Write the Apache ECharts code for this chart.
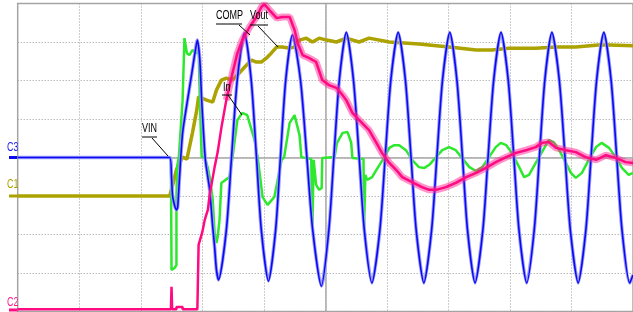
<!DOCTYPE html>
<html>
<head>
<meta charset="utf-8">
<script src="https://cdn.jsdelivr.net/npm/echarts@6/dist/echarts.min.js"></script>
<style>
  html, body { margin: 0; padding: 0; background: #fff; }
  #scope { width: 633px; height: 312px; }
</style>
</head>
<body>
<div id="scope"></div>
<script>
// time in divisions from screen centre, voltage in divisions from centre
const c3Vin = [
  [-5.0, 0], [-2.53, 0], [-2.50, -0.51], [-2.48, -1.03], [-2.42, -1.36], [-2.40, -1.29],
  [-2.37, -0.51], [-2.32, 0.64], [-2.24, 1.49], [-2.17, 2.19], [-2.12, 2.71], [-2.08, 3.05],
  [-2.04, 2.53], [-2.01, 1.49], [-1.98, 0.64], [-1.95, -0.06], [-1.91, -0.51], [-1.88, -0.84],
  [-1.83, -1.81], [-1.80, -2.32], [-1.77, -2.92], [-1.736, -3.18],
  [-1.609, -1.88], [-1.525, 0], [-1.432, 2.01], [-1.314, 3.23],
  [-1.205, 2.01], [-1.119, 0], [-1.041, -1.88], [-0.925, -3.21],
  [-0.808, -1.88], [-0.730, 0], [-0.644, 2.01], [-0.535, 3.18],
  [-0.404, 2.01], [-0.300, 0], [-0.206, -1.88], [-0.065, -3.34],
  [0.057, -1.88], [0.138, 0], [0.227, 2.01], [0.341, 3.25],
  [0.457, 2.01], [0.550, 0], [0.633, -1.88], [0.757, -3.26],
  [0.886, -1.88], [0.972, 0], [1.064, 2.01], [1.184, 3.25],
  [1.301, 2.01], [1.393, 0], [1.476, -1.88], [1.601, -3.26],
  [1.727, -1.88], [1.812, 0], [1.904, 2.01], [2.023, 3.25],
  [2.138, 2.01], [2.229, 0], [2.310, -1.88], [2.433, -3.26],
  [2.560, -1.88], [2.644, 0], [2.736, 2.01], [2.855, 3.25],
  [2.972, 2.01], [3.064, 0], [3.147, -1.88], [3.272, -3.26],
  [3.395, -1.88], [3.478, 0], [3.567, 2.01], [3.682, 3.25],
  [3.802, 2.01], [3.896, 0], [3.981, -1.88], [4.109, -3.26],
  [4.234, -1.88], [4.318, 0], [4.409, 2.01], [4.526, 3.25],
  [4.644, 2.01], [4.736, 0], [4.821, -1.88], [4.947, -3.26],
  [5.0, -3.05]
];

const c1Comp = [
  [-5.0, -1.0], [-2.53, -1.0], [-2.50, -0.97], [-2.48, -0.71], [-2.42, -0.32], [-2.37, -0.14],
  [-2.32, 0.01], [-2.25, -0.04], [-2.16, 0.64], [-2.09, 1.23], [-2.06, 1.58], [-1.93, 1.49],
  [-1.83, 1.44], [-1.77, 1.75], [-1.69, 2.01], [-1.61, 2.06], [-1.51, 2.01], [-1.43, 2.14],
  [-1.31, 2.35], [-1.20, 2.53], [-1.12, 2.48], [-1.04, 2.48], [-0.96, 2.58], [-0.88, 2.71],
  [-0.79, 2.87], [-0.70, 2.87], [-0.58, 2.84], [-0.50, 2.87], [-0.42, 3.05], [-0.31, 3.10],
  [-0.21, 3.00], [-0.10, 3.10], [0.02, 3.05], [0.18, 3.00], [0.34, 3.10], [0.55, 3.00],
  [0.71, 3.10], [1.04, 3.00], [1.52, 2.95], [2.01, 2.87], [2.45, 2.79], [2.71, 2.79],
  [2.98, 2.84], [3.42, 2.84], [3.75, 2.87], [4.07, 2.87], [4.44, 2.92], [4.61, 2.92],
  [5.0, 2.90]
];

const inCurrent = [
  [-5.0, 0], [-2.51, 0], [-2.50, -2.92], [-2.45, -2.87], [-2.42, -2.79], [-2.42, -1.10],
  [-2.41, -0.25], [-2.38, 0.04], [-2.35, 0.04], [-2.32, 1.49], [-2.29, 3.10], [-2.25, 2.71],
  [-2.21, 2.66], [-2.16, 2.79], [-2.09, 2.71], [-2.06, 2.87], [-2.04, 1.49], [-2.01, 0.01],
  [-1.96, 0], [-1.91, -0.27], [-1.88, -0.51], [-1.83, -1.10], [-1.80, -1.96], [-1.77, -2.22],
  [-1.75, -2.06], [-1.72, -1.62], [-1.69, -0.66], [-1.56, -0.51], [-1.52, -0.14],
  [-1.43, 0.97], [-1.35, 1.16], [-1.27, 1.10], [-1.15, 0.45], [-1.10, 0.01],
  [-1.02, -1.03], [-0.94, -1.23], [-0.83, -1.03], [-0.71, -0.06], [-0.67, 0.01],
  [-0.58, 0.90], [-0.50, 1.10], [-0.42, 0.58], [-0.39, 0.01], [-0.23, -0.04],
  [-0.21, -1.81], [-0.19, -0.06], [-0.18, -0.06], [-0.15, -0.71], [-0.10, -0.84],
  [-0.06, -0.79], [-0.05, -0.01], [0.15, 0.01], [0.19, 0.38], [0.28, 0.64], [0.36, 0.66],
  [0.39, 0.53], [0.42, 0.38], [0.44, -0.01], [0.62, -0.04], [0.63, -1.81], [0.65, -0.45],
  [0.68, -0.58], [0.76, -0.51], [0.83, -0.32], [0.96, 0.01], [1.04, 0.25], [1.12, 0.32],
  [1.20, 0.32], [1.31, 0.19], [1.41, -0.06], [1.52, -0.25], [1.61, -0.27], [1.69, -0.19],
  [1.80, 0.01], [1.90, 0.19], [2.01, 0.27], [2.12, 0.19], [2.22, -0.01], [2.34, -0.25],
  [2.45, -0.35], [2.55, -0.25], [2.66, 0.01], [2.77, 0.27], [2.85, 0.38], [2.94, 0.32],
  [3.03, 0.12], [3.15, -0.25], [3.23, -0.51], [3.31, -0.45], [3.42, -0.14], [3.52, 0.14],
  [3.63, 0.45], [3.71, 0.40], [3.80, 0.19], [3.91, -0.14], [3.99, -0.40], [4.07, -0.53],
  [4.17, -0.40], [4.28, -0.06], [4.40, 0.27], [4.49, 0.38], [4.61, 0.25], [4.72, 0.01],
  [4.82, -0.27], [4.93, -0.45], [5.0, -0.40]
];

const c2Vout = [
  [-5.0, -3.94], [-2.51, -3.94], [-2.50, -3.36], [-2.49, -3.94], [-2.42, -3.94], [-2.42, -3.88],
  [-2.32, -3.88], [-2.32, -3.94], [-2.08, -3.94], [-2.06, -2.27], [-2.00, -1.94], [-1.96, -1.62],
  [-1.91, -1.36], [-1.88, -0.97], [-1.80, -0.25], [-1.75, 0.14], [-1.69, 0.77], [-1.61, 1.49],
  [-1.51, 2.19], [-1.43, 2.71], [-1.35, 3.05], [-1.23, 3.39], [-1.12, 3.65], [-1.04, 3.91],
  [-0.99, 3.98], [-0.91, 3.83], [-0.79, 3.62], [-0.70, 3.65], [-0.58, 3.65], [-0.50, 3.31],
  [-0.45, 2.97], [-0.37, 2.66], [-0.26, 2.58], [-0.15, 2.48], [-0.05, 2.01], [0.06, 1.88],
  [0.18, 1.81], [0.28, 1.62], [0.34, 1.49], [0.44, 1.16], [0.55, 0.97], [0.71, 0.71],
  [0.83, 0.38], [0.92, 0.12], [1.04, -0.14], [1.15, -0.32], [1.25, -0.51], [1.41, -0.64],
  [1.57, -0.77], [1.69, -0.84], [1.80, -0.84], [1.96, -0.77], [2.12, -0.66], [2.29, -0.51],
  [2.45, -0.40], [2.61, -0.27], [2.77, -0.12], [2.94, 0.01], [3.10, 0.12], [3.26, 0.19],
  [3.42, 0.27], [3.52, 0.38], [3.63, 0.40], [3.75, 0.25], [3.91, 0.19], [4.07, 0.14],
  [4.23, 0.01], [4.40, -0.06], [4.56, 0.06], [4.72, -0.01], [4.88, -0.12], [5.0, -0.14]
];

const chart = echarts.init(document.getElementById('scope'), null, { renderer: 'canvas' });

const labelFont = '12px "Liberation Sans", Arial, sans-serif';

function note(text, x, y, ux1, ux2, uy, lx1, ly1, lx2, ly2) {
  return [
    { type: 'text', x: x, y: y, scaleX: 0.75, z: 50, style: { text: text, fill: '#000', font: labelFont } },
    { type: 'line', z: 50, shape: { x1: ux1, y1: uy, x2: ux2, y2: uy }, style: { stroke: '#000', lineWidth: 1 } },
    { type: 'line', z: 50, shape: { x1: lx1, y1: ly1, x2: lx2, y2: ly2 }, style: { stroke: '#000', lineWidth: 1 } }
  ];
}

function chLabel(text, y, color) {
  return { type: 'text', x: 7, y: y, scaleX: 0.75, style: { text: text, fill: color, font: labelFont } };
}

const option = {
  animation: false,
  backgroundColor: '#fff',
  grid: { left: 17.7, top: 3.5, width: 616.5, height: 308, show: true, borderColor: '#a8a8a8', borderWidth: 1.5 },
  xAxis: {
    type: 'value', min: -5, max: 5, interval: 1,
    axisLine: { show: true, onZero: true, lineStyle: { color: '#a8a8a8', width: 1.5 } },
    axisTick: { show: false }, axisLabel: { show: false },
    splitLine: { show: true, lineStyle: { color: '#9a9a9a', type: [1, 2], width: 1 } }
  },
  yAxis: {
    type: 'value', min: -4, max: 4, interval: 1,
    axisLine: { show: true, onZero: true, lineStyle: { color: '#a8a8a8', width: 1.5 } },
    axisTick: { show: false }, axisLabel: { show: false },
    splitLine: { show: true, lineStyle: { color: '#9a9a9a', type: [1, 2], width: 1 } }
  },
  series: [
    {
      name: 'COMP', type: 'line', data: c1Comp, showSymbol: false, z: 2,
      lineStyle: { color: '#aca200', width: 3.5 }
    },
    {
      name: 'In', type: 'line', data: inCurrent, showSymbol: false, z: 3,
      lineStyle: { color: '#2ee82e', width: 2.5 }
    },
    {
      name: 'VIN halo', type: 'line', data: c3Vin, showSymbol: false, smooth: 0.25, z: 4,
      lineStyle: { color: '#9c9cff', width: 3.5 }
    },
    {
      name: 'VIN', type: 'line', data: c3Vin, showSymbol: false, smooth: 0.25, z: 5,
      lineStyle: { color: '#0a0af0', width: 1.6 }
    },
    {
      name: 'Vout noise', type: 'line', data: c2Vout.filter(p => p[0] > -1.62), showSymbol: false, z: 6,
      lineStyle: { color: 'rgba(255, 40, 150, 0.5)', width: 7, cap: 'butt' }
    },
    {
      name: 'Vout', type: 'line', data: c2Vout, showSymbol: false, z: 7,
      lineStyle: { color: '#ff0a80', width: 2.5 }
    }
  ],
  graphic: [
    { type: 'rect', shape: { x: 9, y: 156, width: 9, height: 3 }, style: { fill: '#0a0af0' } },
    { type: 'rect', shape: { x: 9, y: 194.5, width: 9, height: 3 }, style: { fill: '#aca200' } },
    { type: 'rect', shape: { x: 9, y: 308.5, width: 9, height: 3 }, style: { fill: '#ff0a80' } },
    chLabel('C3', 142, '#1a1aff'),
    chLabel('C1', 179, '#aca200'),
    chLabel('C2', 297, '#ff1a8c'),
    ...note('VIN', 142, 123, 142, 157, 137, 152, 138, 168, 156),
    ...note('COMP', 216, 10, 216, 242, 24, 239, 25, 250, 35),
    ...note('Vout', 250, 10, 250, 268, 25, 258, 26, 278, 47),
    ...note('In', 223, 82, 222, 232, 95, 228, 95, 242, 115)
  ]
};

chart.setOption(option);
</script>
</body>
</html>
